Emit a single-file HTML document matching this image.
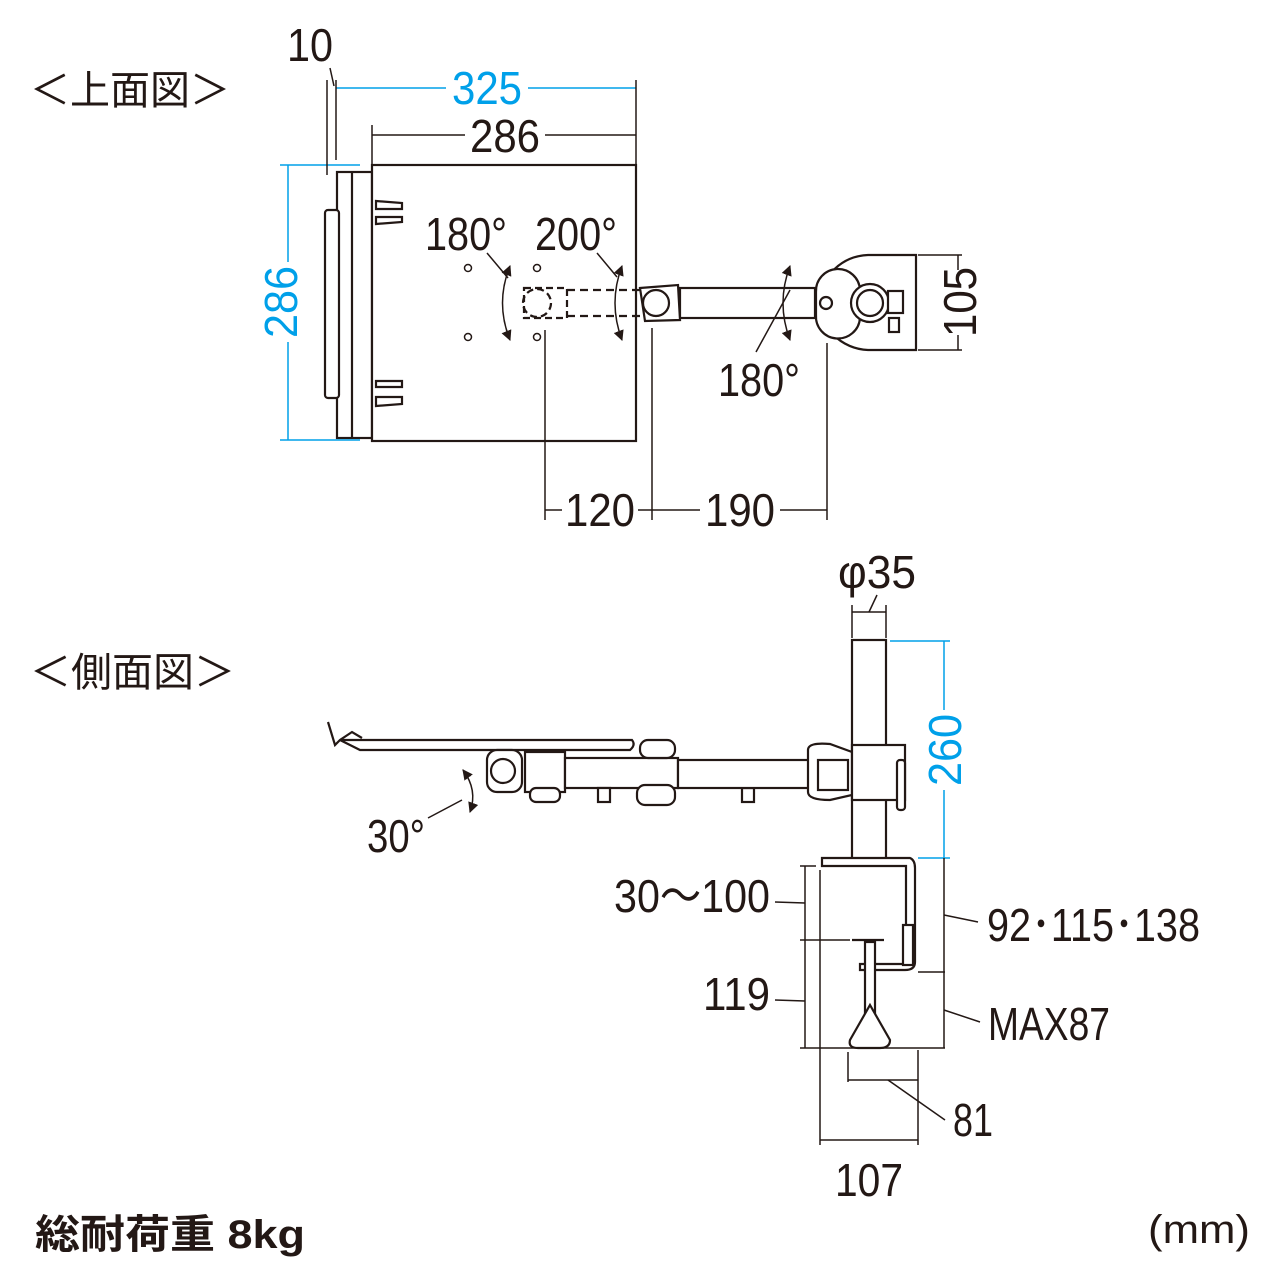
<!DOCTYPE html>
<html><head><meta charset="utf-8"><style>
html,body{margin:0;padding:0;background:#fff;}
svg{display:block;}
text{font-family:"Liberation Sans","Noto Sans CJK JP",sans-serif;}
</style></head><body>
<svg width="1280" height="1280" viewBox="0 0 1280 1280" xmlns="http://www.w3.org/2000/svg">
<defs>
<marker id="ah" viewBox="0 0 10 10" refX="9" refY="5" markerWidth="7" markerHeight="7" orient="auto-start-reverse"><path d="M0,0 L10,5 L0,10 z" fill="#231815"/></marker>
</defs>
<!-- top view drawing -->
<g stroke="#231815" stroke-width="2.2" fill="#fff">
<rect x="337" y="172" width="35" height="266"/>
<line x1="352" y1="172" x2="352" y2="438"/>
<rect x="325" y="210" width="14" height="188" rx="3"/>
<rect x="372" y="165" width="264" height="276"/>
<path d="M376,201 L402,203 L402,209 L376,209 Z M376,217 L402,217 L402,222 L376,224 Z M376,381 L402,381 L402,387 L376,387 Z M376,397 L402,397 L402,404 L376,406 Z"/>
<circle cx="468" cy="268" r="3.5" stroke-width="1.5"/><circle cx="537" cy="268" r="3.5" stroke-width="1.5"/>
<circle cx="468" cy="337" r="3.5" stroke-width="1.5"/><circle cx="537" cy="337" r="3.5" stroke-width="1.5"/>
<path d="M524,288 L567,288 L567,318 L524,318 Z" stroke-dasharray="7 4" fill="none"/>
<circle cx="537" cy="303" r="14" stroke-dasharray="7 4" fill="none"/>
<line x1="567" y1="290" x2="640" y2="290" stroke-dasharray="8 5"/>
<line x1="567" y1="316" x2="640" y2="316" stroke-dasharray="8 5"/>
<rect x="680" y="288" width="135" height="30"/>
<path d="M640,288 L678,285 L680,320 L645,321 Z"/>
<circle cx="656" cy="303" r="13"/>
<path d="M820,300 A50,48 0 0 1 868,255 L916,255 L916,350 L868,350 A50,48 0 0 1 820,300 Z"/>
<path d="M816,292 A22,22 0 0 1 860,290 L860,318 A22,22 0 0 1 816,315 Z"/>
<circle cx="826" cy="303" r="6"/>
<circle cx="870" cy="303" r="19"/><circle cx="870" cy="303" r="13"/>
<rect x="888" y="291" width="15" height="22"/>
<rect x="889" y="318" width="10" height="14"/>
</g>
<!-- side view drawing -->
<g stroke="#231815" stroke-width="2.2" fill="#fff">
<rect x="852" y="640" width="34" height="222"/>
<path d="M340,740 L632,740 Q636,745 630,750 L360,750 L350,745 Z"/>
<path d="M328,722 L335,745 L340,740 L352,732 L362,738" fill="none"/>
<rect x="487" y="750" width="35" height="42" rx="10"/>
<circle cx="503" cy="771" r="12"/>
<rect x="525" y="752" width="40" height="40"/>
<rect x="530" y="788" width="30" height="14" rx="6"/>
<rect x="565" y="758" width="113" height="30"/>
<rect x="640" y="740" width="35" height="18" rx="8"/>
<rect x="637" y="785" width="38" height="20" rx="8"/>
<rect x="598" y="788" width="12" height="14"/>
<rect x="742" y="788" width="12" height="14"/>
<rect x="678" y="760" width="142" height="28"/>
<path d="M808,750 Q808,742 830,744 L852,752 L852,795 L830,800 Q808,800 808,792 Z"/>
<rect x="818" y="760" width="30" height="30"/>
<rect x="852" y="745" width="53" height="55"/>
<rect x="897" y="760" width="8" height="50" rx="3"/>
<path d="M822,858 L910,858 Q915,860 915,868 L915,962 Q915,970 905,970 L860,970 L860,964 L906,964 L906,866 L822,866 Z"/>
<rect x="903" y="925" width="10" height="40"/>
<line x1="852" y1="940" x2="884" y2="940"/>
<rect x="865" y="942" width="10" height="80"/>
<path d="M870,1005 L890,1040 Q890,1048 880,1048 L858,1048 Q848,1048 850,1040 Z"/>
</g>
<!-- blue dims -->
<g stroke="#00a0e9" stroke-width="1.5" fill="none">
<line x1="336" y1="88" x2="446" y2="88"/><line x1="528" y1="88" x2="636" y2="88"/>
<line x1="288" y1="165" x2="288" y2="262"/><line x1="288" y1="342" x2="288" y2="440"/>
<line x1="280" y1="165" x2="360" y2="165"/><line x1="280" y1="440" x2="360" y2="440"/>
<line x1="944" y1="641" x2="944" y2="710"/><line x1="944" y1="790" x2="944" y2="858"/>
<line x1="890" y1="641" x2="950" y2="641"/><line x1="918" y1="858" x2="950" y2="858"/>
</g>
<!-- thin black dims -->
<g stroke="#231815" stroke-width="1.5" fill="none">
<line x1="327" y1="80" x2="327" y2="175"/><line x1="336" y1="80" x2="336" y2="160"/>
<line x1="330" y1="68" x2="334" y2="86"/>
<line x1="636" y1="80" x2="636" y2="165"/>
<line x1="372" y1="125" x2="372" y2="165"/>
<line x1="372" y1="135" x2="465" y2="135"/><line x1="545" y1="135" x2="636" y2="135"/>
<line x1="545" y1="330" x2="545" y2="520"/><line x1="652" y1="328" x2="652" y2="520"/><line x1="827" y1="343" x2="827" y2="520"/>
<line x1="545" y1="510" x2="562" y2="510"/><line x1="638" y1="510" x2="700" y2="510"/><line x1="780" y1="510" x2="827" y2="510"/>
<line x1="918" y1="255" x2="962" y2="255"/><line x1="918" y1="350" x2="962" y2="350"/>
<line x1="958" y1="255" x2="958" y2="270"/><line x1="958" y1="335" x2="958" y2="350"/>
<line x1="487" y1="253" x2="508" y2="278"/><line x1="597" y1="253" x2="617" y2="277"/><line x1="756" y1="352" x2="790" y2="290"/>
<line x1="852" y1="605" x2="852" y2="638"/><line x1="886" y1="605" x2="886" y2="638"/>
<line x1="852" y1="612" x2="886" y2="612"/><line x1="877" y1="595" x2="869" y2="612"/>
<line x1="428" y1="818" x2="462" y2="800"/>
<line x1="805" y1="866" x2="805" y2="1048"/><line x1="800" y1="866" x2="816" y2="866"/>
<line x1="800" y1="1048" x2="945" y2="1048"/><line x1="800" y1="940" x2="850" y2="940"/>
<line x1="775" y1="902" x2="805" y2="903"/><line x1="775" y1="1000" x2="805" y2="1001"/>
<line x1="944" y1="858" x2="944" y2="1048"/><line x1="918" y1="972" x2="945" y2="972"/>
<line x1="944" y1="915" x2="978" y2="922"/><line x1="944" y1="1010" x2="980" y2="1022"/>
<line x1="820" y1="870" x2="820" y2="1145"/><line x1="918" y1="1050" x2="918" y2="1145"/>
<line x1="848" y1="1052" x2="848" y2="1082"/><line x1="848" y1="1080" x2="918" y2="1080"/>
<line x1="820" y1="1140" x2="918" y2="1140"/><line x1="888" y1="1080" x2="945" y2="1120"/>
<path d="M510,266 Q495,303 510,340" marker-start="url(#ah)" marker-end="url(#ah)"/>
<path d="M622,266 Q608,303 622,340" marker-start="url(#ah)" marker-end="url(#ah)"/>
<path d="M790,266 Q776,303 790,340" marker-start="url(#ah)" marker-end="url(#ah)"/>
<path d="M463,770 Q478,790 470,812" marker-start="url(#ah)" marker-end="url(#ah)"/>
</g>
<g fill="#231815" font-size="46">
<text x="30" y="104" font-size="40" textLength="200" lengthAdjust="spacingAndGlyphs">＜上面図＞</text>
<text x="287" y="61" textLength="46" lengthAdjust="spacingAndGlyphs">10</text>
<text x="470" y="152" textLength="70" lengthAdjust="spacingAndGlyphs">286</text>
<text x="425" y="250" textLength="82" lengthAdjust="spacingAndGlyphs">180°</text>
<text x="535" y="250" textLength="82" lengthAdjust="spacingAndGlyphs">200°</text>
<text x="718" y="396" textLength="82" lengthAdjust="spacingAndGlyphs">180°</text>
<text x="565" y="526" textLength="70" lengthAdjust="spacingAndGlyphs">120</text>
<text x="705" y="526" textLength="70" lengthAdjust="spacingAndGlyphs">190</text>
<text transform="translate(976,302) rotate(-90)" text-anchor="middle" textLength="70" lengthAdjust="spacingAndGlyphs">105</text>
<text x="30" y="686" font-size="40" textLength="205" lengthAdjust="spacingAndGlyphs">＜側面図＞</text>
<text x="838" y="588" textLength="78" lengthAdjust="spacingAndGlyphs">φ35</text>
<text x="367" y="852" textLength="58" lengthAdjust="spacingAndGlyphs">30°</text>
<text x="614" y="912" textLength="156" lengthAdjust="spacingAndGlyphs">30～100</text>
<text x="703" y="1010" textLength="67" lengthAdjust="spacingAndGlyphs">119</text>
<text x="987" y="941" textLength="213" lengthAdjust="spacingAndGlyphs">92･115･138</text>
<text x="988" y="1040" textLength="122" lengthAdjust="spacingAndGlyphs">MAX87</text>
<text x="953" y="1136" textLength="40" lengthAdjust="spacingAndGlyphs">81</text>
<text x="835" y="1196" textLength="68" lengthAdjust="spacingAndGlyphs">107</text>
<text x="35" y="1248" font-size="40" font-weight="bold" textLength="270" lengthAdjust="spacingAndGlyphs">総耐荷重 8kg</text>
<text x="1148" y="1243" font-size="40" textLength="102" lengthAdjust="spacingAndGlyphs">(mm)</text>
</g>
<g fill="#00a0e9" font-size="46">
<text x="452" y="104" textLength="70" lengthAdjust="spacingAndGlyphs">325</text>
<text transform="translate(297,302) rotate(-90)" text-anchor="middle" textLength="72" lengthAdjust="spacingAndGlyphs">286</text>
<text transform="translate(961,750) rotate(-90)" text-anchor="middle" textLength="72" lengthAdjust="spacingAndGlyphs">260</text>
</g>
</svg>
</body></html>
